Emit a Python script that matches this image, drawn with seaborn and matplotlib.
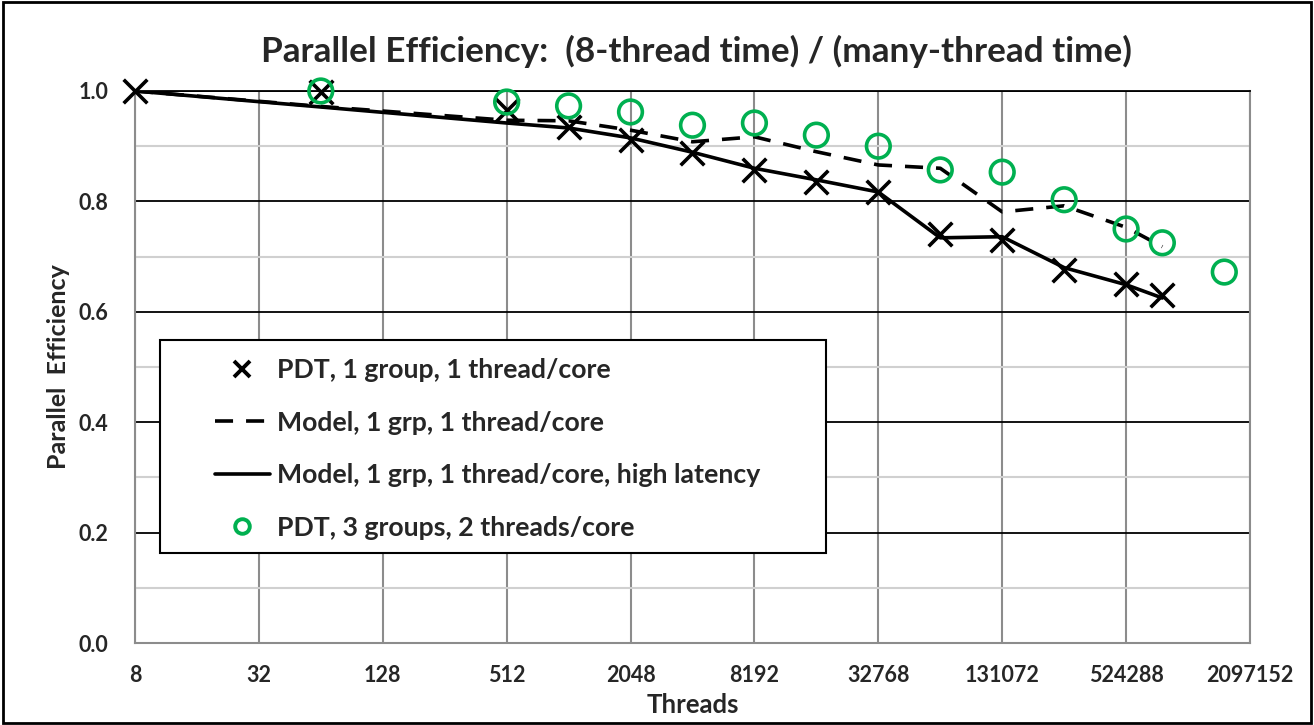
import numpy as np
import pandas as pd
import matplotlib
matplotlib.use('Agg')
import matplotlib.pyplot as plt
from matplotlib.lines import Line2D
from matplotlib.ticker import FixedLocator, MultipleLocator, NullLocator
import seaborn as sns

# ── Data ─────────────────────────────────────────────────────────────────────
model_threads = [8, 64, 512, 1024, 2048, 4096, 8192, 16384, 32768,
                 65536, 131072, 262144, 524288, 786432]
pdt1_eff      = [1.000, 0.998, 0.965, 0.935, 0.911, 0.888, 0.857, 0.835, 0.817,
                 0.741, 0.730, 0.676, 0.650, 0.630]
model_eff     = [1.000, 0.972, 0.947, 0.946, 0.929, 0.908, 0.917, 0.890, 0.866,
                 0.860, 0.781, 0.792, 0.753, 0.718]
model_hl_eff  = [1.000, 0.971, 0.942, 0.933, 0.915, 0.889, 0.860, 0.839, 0.817,
                 0.734, 0.736, 0.680, 0.649, 0.625]
pdt3_threads  = [64, 512, 1024, 2048, 4096, 8192, 16384, 32768,
                 65536, 131072, 262144, 524288, 786432, 1572864]
pdt3_eff      = [1.000, 0.980, 0.973, 0.962, 0.938, 0.942, 0.920, 0.900,
                 0.857, 0.853, 0.803, 0.750, 0.725, 0.672]

xtick_vals = [8, 32, 128, 512, 2048, 8192, 32768, 131072, 524288, 2097152]

labels = ['PDT, 1 group, 1 thread/core',
          'Model, 1 grp, 1 thread/core',
          'Model, 1 grp, 1 thread/core, high latency',
          'PDT, 3 groups, 2 threads/core']

# ── Colors ───────────────────────────────────────────────────────────────────
BLACK = '#000000'
GREEN = '#00B050'
GRID  = '#8C8C8C'
MINOR = '#D0D0D0'

sns.set_style('white')
plt.rcParams['font.family'] = ['Lato', 'DejaVu Sans']
plt.rcParams['font.weight'] = 'bold'

fig = plt.figure(figsize=(13.14, 7.25), dpi=100)
ax = fig.add_axes([0.1027, 0.1131, 0.8486, 0.7614])

df_model = pd.DataFrame({'Threads': model_threads, 'pdt1': pdt1_eff,
                         'model': model_eff, 'model_hl': model_hl_eff})
df_pdt3 = pd.DataFrame({'Threads': pdt3_threads, 'eff': pdt3_eff})

LW = 2.6
DASH = [5, 3.6]
sns.lineplot(data=df_model, x='Threads', y='model', ax=ax, color=BLACK,
             linewidth=LW, zorder=3)
ax.lines[-1].set_dashes(DASH)
sns.lineplot(data=df_model, x='Threads', y='model_hl', ax=ax, color=BLACK,
             linewidth=LW, zorder=3)
sns.scatterplot(data=df_model, x='Threads', y='pdt1', ax=ax, marker='x',
                s=290, color=BLACK, linewidth=2.6, zorder=4, clip_on=False)
sns.scatterplot(data=df_pdt3, x='Threads', y='eff', ax=ax, marker='o',
                s=290, color=GREEN, linewidth=2.6, zorder=5, clip_on=False)
ax.collections[-1].set_facecolor('none')
ax.collections[-1].set_edgecolor(GREEN)

# ── Axes ─────────────────────────────────────────────────────────────────────
ax.set_xscale('log', base=2)
ax.set_xlim(8, 2097152)
ax.set_ylim(0, 1.0)
ax.xaxis.set_major_locator(FixedLocator(xtick_vals))
ax.xaxis.set_minor_locator(NullLocator())
ax.set_xticklabels([str(v) for v in xtick_vals])
ax.yaxis.set_major_locator(MultipleLocator(0.2))
ax.yaxis.set_minor_locator(MultipleLocator(0.1))
ax.yaxis.set_major_formatter(plt.FuncFormatter(lambda v, p: f'{v:.1f}'))

ax.grid(False)
ax.xaxis.grid(True, which='major', color=GRID, linewidth=1.5)
ax.yaxis.grid(True, which='major', color=BLACK, linewidth=1.3)
ax.yaxis.grid(True, which='minor', color=MINOR, linewidth=1.5)
ax.set_axisbelow(True)

for s in ['left', 'right', 'bottom']:
    ax.spines[s].set_color(GRID)
    ax.spines[s].set_linewidth(1.5)
ax.spines['top'].set_color(BLACK)
ax.spines['top'].set_linewidth(1.3)

ax.tick_params(axis='x', which='major', direction='out', length=7, width=1.5,
               color=GRID, labelsize=15.5, pad=9)
ax.tick_params(axis='y', which='major', direction='out', length=7, width=1.5,
               color=GRID, labelsize=15.5, pad=12)
ax.tick_params(axis='y', which='minor', length=0)
for lbl in ax.get_xticklabels() + ax.get_yticklabels():
    lbl.set_fontweight('bold')

ax.set_xlabel('Threads', fontsize=18.5, fontweight='bold')
ax.xaxis.set_label_coords(0.5, -0.112)
ax.xaxis.label.set_verticalalignment('center')
ax.set_ylabel('Parallel  Efficiency', fontsize=18, fontweight='bold')
ax.yaxis.set_label_coords(-0.069, 0.5)
ax.yaxis.label.set_verticalalignment('center')
fig.suptitle('Parallel Efficiency:  (8-thread time) / (many-thread time)',
             fontsize=25.3, fontweight='bold', x=0.53, y=0.929, va='center')

# ── Legend ───────────────────────────────────────────────────────────────────
ax.add_patch(plt.Rectangle((0.0224, 0.163), 0.597, 0.386, transform=ax.transAxes,
                           facecolor='white', edgecolor=BLACK, linewidth=1.5,
                           zorder=6))
handles = [
    Line2D([], [], linestyle='none', marker='x', color=BLACK, markersize=11,
           markeredgewidth=2.8),
    Line2D([], [], color=BLACK, linewidth=LW, dashes=DASH),
    Line2D([], [], color=BLACK, linewidth=LW),
    Line2D([], [], linestyle='none', marker='o', markerfacecolor='none',
           markeredgecolor=GREEN, markersize=10.5, markeredgewidth=2.8),
]
leg = ax.legend(handles, labels, loc='upper left', bbox_to_anchor=(0.0717, 0.516),
                frameon=False, borderpad=0, borderaxespad=0, handlelength=2.05,
                handletextpad=0.28, labelspacing=1.07,
                prop={'size': 19.2, 'weight': 'bold'})
leg.set_zorder(7)

fig.add_artist(plt.Rectangle((0.002, 0.003), 0.996, 0.994, transform=fig.transFigure,
                             fill=False, edgecolor=BLACK, linewidth=2))

fig.savefig('out.png', dpi=100, facecolor='white')
